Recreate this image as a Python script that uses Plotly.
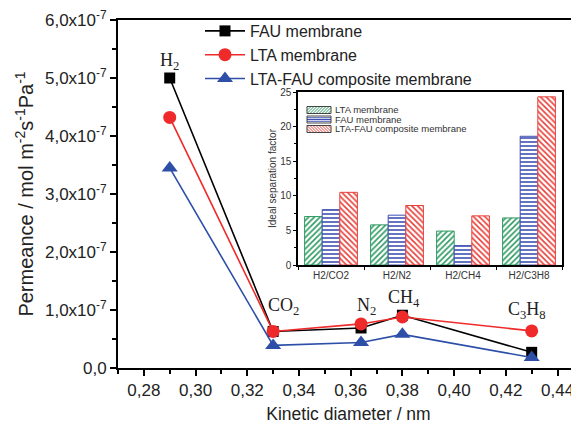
import plotly.graph_objects as go

# Main chart data
gases = ["H<sub>2</sub>", "CO<sub>2</sub>", "N<sub>2</sub>", "CH<sub>4</sub>", "C<sub>3</sub>H<sub>8</sub>"]
kinetic_diameter = [0.29, 0.33, 0.364, 0.38, 0.43]
fau_perm = [5.0e-7, 0.63e-7, 0.69e-7, 0.91e-7, 0.27e-7]
lta_perm = [4.32e-7, 0.63e-7, 0.76e-7, 0.88e-7, 0.64e-7]
comp_perm = [3.45e-7, 0.39e-7, 0.44e-7, 0.58e-7, 0.18e-7]
label_x = [0.29, 0.334, 0.366, 0.3806, 0.428]
label_y = [5.29e-7, 1.06e-7, 1.06e-7, 1.19e-7, 0.99e-7]

y_tickvals = [0, 1e-7, 2e-7, 3e-7, 4e-7, 5e-7, 6e-7]
y_ticktext = ["0,0"] + [f"{i},0x10<sup>-7</sup>" for i in range(1, 7)]
x_tickvals = [0.28, 0.30, 0.32, 0.34, 0.36, 0.38, 0.40, 0.42, 0.44]
x_ticktext = ["0,28", "0,30", "0,32", "0,34", "0,36", "0,38", "0,40", "0,42", "0,44"]

# Inset data
pairs = ["H2/CO2", "H2/N2", "H2/CH4", "H2/C3H8"]
lta_sep = [7.0, 5.8, 4.9, 6.8]
fau_sep = [8.0, 7.2, 2.8, 18.6]
comp_sep = [10.5, 8.6, 7.1, 24.3]

# page offset (body margin) and layout geometry
OFF = 8
ML, MT, PW, PH = 110, 12, 461, 348


def px2paper(px, py):
    return ((px - OFF - ML) / PW, (OFF + MT + PH - py) / PH)


fig = go.Figure()

line_series = [
    ("FAU membrane", fau_perm, "#000000", "square", 11),
    ("LTA membrane", lta_perm, "#ee2a2a", "circle", 13),
    ("LTA-FAU composite membrane", comp_perm, "#2d4fa8", "triangle-up", 14),
]
for name, vals, col, sym, sz in line_series:
    fig.add_trace(go.Scatter(
        x=kinetic_diameter, y=vals, mode="lines+markers", name=name,
        line=dict(color=col, width=1.6),
        marker=dict(symbol=sym, size=sz, color=col),
        xaxis="x", yaxis="y",
    ))

bar_series = [
    ("LTA membrane", lta_sep, "#2e9a62", "/"),
    ("FAU membrane", fau_sep, "#3d4fb0", "-"),
    ("LTA-FAU composite membrane", comp_sep, "#e8403a", "\\"),
]
for name, vals, col, shp in bar_series:
    fig.add_trace(go.Bar(
        x=pairs, y=vals, name=name, showlegend=False,
        marker=dict(color="white", line=dict(color=col, width=1),
                    pattern=dict(shape=shp, fgcolor=col, bgcolor="white",
                                 size=4, solidity=0.4, fillmode="replace")),
        xaxis="x2", yaxis="y2",
    ))

for gx, gy, gt in zip(label_x, label_y, gases):
    fig.add_annotation(x=gx, y=gy, xref="x", yref="y", text=gt, showarrow=False,
                       font=dict(family="Liberation Serif, Times New Roman, serif", size=18, color="#222"))

# Inset legend drawn by hand (compact row spacing)
shapes = []
sw_x0, sw_x1, sw_h = 307, 331, 7
rows_y = [110, 119.5, 129]
for (name, vals, col, shp), ry in zip(bar_series, rows_y):
    top, bot = ry - sw_h / 2, ry + sw_h / 2
    x0p, y0p = px2paper(sw_x0, bot)
    x1p, y1p = px2paper(sw_x1, top)
    w = sw_x1 - sw_x0
    segs = []
    if shp == "/":
        c = -sw_h + 1
        while c < w:
            hs, he = max(0, -c), min(sw_h, w - c)
            if he > hs:
                segs.append(((sw_x0 + c + hs, bot - hs), (sw_x0 + c + he, bot - he)))
            c += 3
    elif shp == "\\":
        c = 1
        while c < w + sw_h:
            hs, he = max(0, c - w), min(sw_h, c)
            if he > hs:
                segs.append(((sw_x0 + c - hs, bot - hs), (sw_x0 + c - he, bot - he)))
            c += 3
    else:
        for hh in [1.75, 3.5, 5.25]:
            segs.append(((sw_x0, bot - hh), (sw_x1, bot - hh)))
    for (ax, ay), (bx, by) in segs:
        p0 = px2paper(ax, ay)
        p1 = px2paper(bx, by)
        shapes.append(dict(type="line", xref="paper", yref="paper", x0=p0[0], y0=p0[1],
                           x1=p1[0], y1=p1[1], line=dict(color=col, width=1), layer="above"))
    shapes.append(dict(type="rect", xref="paper", yref="paper", x0=x0p, y0=y0p, x1=x1p, y1=y1p,
                       line=dict(color="#444", width=1), fillcolor="rgba(0,0,0,0)", layer="above"))
    tx, ty = px2paper(333, ry)
    fig.add_annotation(x=tx, y=ty, xref="paper", yref="paper", text=name, showarrow=False,
                       xanchor="left", yanchor="middle", font=dict(size=9.5, color="#333"))

fig.update_layout(
    width=PW + ML, height=424 - OFF,
    margin=dict(l=ML, r=0, t=MT, b=424 - OFF - MT - PH),
    paper_bgcolor="white", plot_bgcolor="white",
    font=dict(family="Liberation Sans, Arial, sans-serif", color="#222"),
    barmode="group", bargap=0.2, bargroupgap=0,
    shapes=shapes,
    xaxis=dict(
        domain=[0, 1], range=[0.27, 0.4483], tickvals=x_tickvals, ticktext=x_ticktext,
        ticks="outside", ticklen=6, tickwidth=2, tickcolor="black",
        minor=dict(dtick=0.01, tick0=0.27, ticks="outside", ticklen=4, tickwidth=1.5, tickcolor="black"),
        showline=True, linewidth=2, linecolor="black", mirror=True,
        showgrid=False, zeroline=False, tickfont=dict(size=17), ticklabeloverflow="allow",
        title=dict(text="Kinetic diameter / nm", font=dict(size=17.5), standoff=9),
    ),
    yaxis=dict(
        domain=[0, 1], range=[0, 6e-7], tickvals=y_tickvals, ticktext=y_ticktext,
        ticks="outside", ticklen=6, tickwidth=2, tickcolor="black",
        minor=dict(dtick=0.5e-7, tick0=0, ticks="outside", ticklen=4, tickwidth=1.5, tickcolor="black"),
        showline=True, linewidth=2, linecolor="black",
        showgrid=False, zeroline=False, tickfont=dict(size=17), ticklabeloverflow="allow",
        title=dict(text="Permeance / mol m<sup>-2</sup>s<sup>-1</sup>Pa<sup>-1</sup>", font=dict(size=20), standoff=6),
    ),
    xaxis2=dict(
        domain=[px2paper(298, 0)[0], px2paper(562, 0)[0]], anchor="y2", type="category", range=[-0.5, 3.5],
        tickson="boundaries", ticks="outside", ticklen=3, tickwidth=1, tickcolor="black",
        showline=True, linewidth=1.5, linecolor="black", mirror=True,
        showgrid=False, zeroline=False, tickfont=dict(size=10, color="#333"),
    ),
    yaxis2=dict(
        domain=[px2paper(0, 265)[1], px2paper(0, 92)[1]], anchor="x2", range=[0, 25], dtick=5,
        ticks="outside", ticklen=3, tickwidth=1, tickcolor="black",
        minor=dict(dtick=2.5, ticks="outside", ticklen=2, tickwidth=1, tickcolor="black"),
        showline=True, linewidth=1.5, linecolor="black", mirror=True,
        showgrid=False, zeroline=False, tickfont=dict(size=10, color="#333"),
        title=dict(text="Ideal separation factor", font=dict(size=10, color="#333"), standoff=2),
    ),
    showlegend=True,
    legend=dict(x=px2paper(200, 0)[0], y=px2paper(0, 14)[1], xanchor="left", yanchor="top",
                bgcolor="rgba(0,0,0,0)", font=dict(size=16), itemwidth=40, tracegroupgap=0),
)

fig.write_html("out.html")
